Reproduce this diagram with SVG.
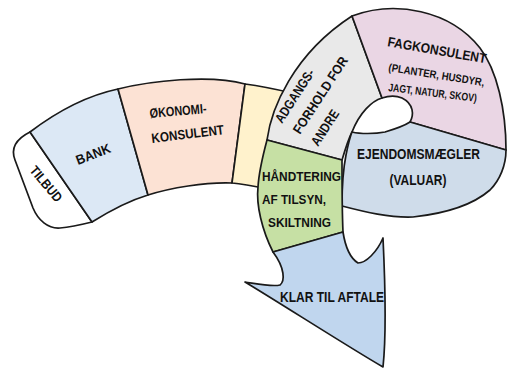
<svg xmlns="http://www.w3.org/2000/svg" width="507" height="368" viewBox="0 0 507 368">
<style>
.s{stroke:#1a1a1a;stroke-width:1.7;stroke-linejoin:round}
text{font-family:"Liberation Sans",Arial,sans-serif;font-weight:bold;fill:#111;font-size:13.5px}
.sm{font-size:11px}
.lg{font-size:14px}
</style>
<rect width="507" height="368" fill="#fff"/>
<g id="tilbud">
<path class="s" fill="#ffffff" d="M30,132 C18,138 10,147 15,160 L33,208 C38,220 48,229 60,228 C72,227 84,224 92,222 Z"/>
<text transform="translate(46,184) rotate(50)" text-anchor="middle" y="4.5" font-size="12.5" textLength="42" lengthAdjust="spacingAndGlyphs">TILBUD</text>
</g>
<g id="bank">
<path class="s" fill="#dce8f5" d="M30,132 C55,113 85,96 118,89 L148,195 C128,201 108,212 92,222 Z"/>
<text transform="translate(78,165) rotate(-21)" textLength="36" lengthAdjust="spacingAndGlyphs">BANK</text>
</g>
<g id="okonomi">
<path class="s" fill="#fce2d4" d="M118,89 C150,81 210,74 245,84 L232,183 C205,182 170,188 148,195 Z"/>
<text transform="translate(150,118) rotate(-5)" textLength="57" lengthAdjust="spacingAndGlyphs">ØKONOMI-</text>
<text transform="translate(152,143) rotate(-7)" textLength="73" lengthAdjust="spacingAndGlyphs">KONSULENT</text>
</g>
<g id="gul">
<path class="s" fill="#fff2cc" d="M245,84 C260,86 275,89 292,93 L272,190 C258,187 245,184 232,183 Z"/>
</g>
<g id="adgang">
<path class="s" fill="#e9e9e9" d="M267,140 C271,110 292,55 352,16 L382,98 C372,101 360,112 352,132 C348,140 345,150 342,160 Z"/>
<text transform="translate(282,124) rotate(-57)" textLength="61" lengthAdjust="spacingAndGlyphs">ADGANGS-</text>
<text transform="translate(300,135) rotate(-57)" textLength="89" lengthAdjust="spacingAndGlyphs">FORHOLD FOR</text>
<text transform="translate(318,147) rotate(-57)" textLength="40" lengthAdjust="spacingAndGlyphs">ANDRE</text>
</g>
<g id="fagkonsulent">
<path class="s" fill="#ead6e4" d="M352,16 C395,0 450,10 480,48 C497,70 506,110 506,150 L410,122 C414,115 414,104 402,98 C395,95 388,96 382,98 Z"/>
<text transform="translate(387,46) rotate(10)" textLength="100" lengthAdjust="spacingAndGlyphs">FAGKONSULENT</text>
<text class="sm" transform="translate(388,71) rotate(9)" textLength="97" lengthAdjust="spacingAndGlyphs">(PLANTER, HUSDYR,</text>
<text class="sm" transform="translate(388,91) rotate(7)" textLength="89" lengthAdjust="spacingAndGlyphs">JAGT, NATUR, SKOV)</text>
</g>
<g id="ejendom">
<path class="s" fill="#cfdcea" d="M410,122 L506,150 C506,165 500,180 490,190 C475,203 450,213 413,217 C390,218 365,212 342,206 C342,190 343,170 346,155 C348,145 350,137 352,132 C360,134 375,134 385,132 C395,129 404,126 410,122 Z"/>
<text class="lg" x="418.5" y="159" text-anchor="middle" textLength="123" lengthAdjust="spacingAndGlyphs">EJENDOMSMÆGLER</text>
<text class="lg" x="418" y="185" text-anchor="middle" textLength="57" lengthAdjust="spacingAndGlyphs">(VALUAR)</text>
</g>
<g id="handtering">
<path class="s" fill="#c6e0a4" d="M267,140 L342,160 C342,180 342,210 343,232 L273,252 C262,230 256,205 258,187 C259,170 263,155 267,140 Z"/>
<text x="262" y="180.5" textLength="79" lengthAdjust="spacingAndGlyphs">HÅNDTERING</text>
<text x="262" y="204" textLength="64" lengthAdjust="spacingAndGlyphs">AF TILSYN,</text>
<text x="268" y="227" textLength="63" lengthAdjust="spacingAndGlyphs">SKILTNING</text>
</g>
<g id="klar">
<path class="s" fill="#c0d6ee" d="M273,252 L343,232 C345,245 350,258 358,263 C366,263 377,252 383,238 C385,280 387,330 383,367 C350,348 280,303 245,282 C258,284 272,287 280,285 C285,281 285,268 273,252 Z"/>
<text class="lg" x="280" y="302" textLength="104" lengthAdjust="spacingAndGlyphs">KLAR TIL AFTALE</text>
</g>
<g id="connectors"></g>
</svg>
